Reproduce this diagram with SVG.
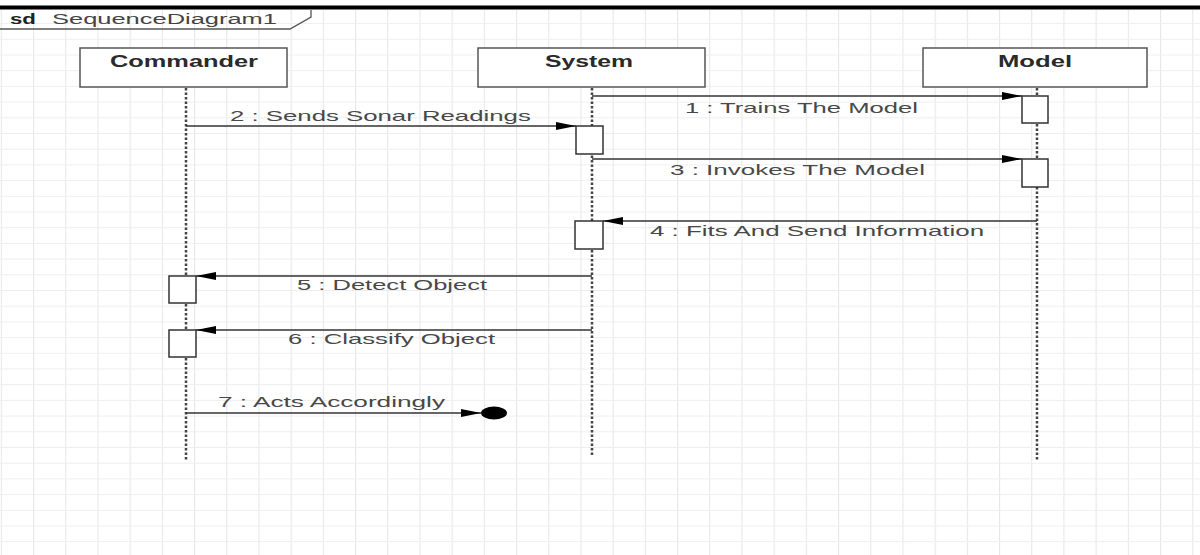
<svg xmlns="http://www.w3.org/2000/svg" width="1200" height="555" viewBox="0 0 1200 555">
<defs>
<pattern id="gv" x="0.8" y="0" width="32.2" height="555" patternUnits="userSpaceOnUse"><line x1="0.5" y1="0" x2="0.5" y2="555" stroke="#e8e8e8" stroke-width="1.2"/></pattern>
<pattern id="gh" x="0" y="7.4" width="1200" height="15.7" patternUnits="userSpaceOnUse"><line x1="0" y1="0.5" x2="1200" y2="0.5" stroke="#eeeeee" stroke-width="1"/></pattern>
<marker id="ah" markerWidth="20" markerHeight="9" refX="20" refY="4.5" orient="auto" markerUnits="userSpaceOnUse"><path d="M0,0.5 L20,4.5 L0,8.5 Z" fill="#000"/></marker>
</defs>
<style>
.lbl{font-family:"Liberation Sans",Arial,sans-serif;font-size:15px;fill:#484848}
.hdr{font-family:"Liberation Sans",Arial,sans-serif;font-size:16px;font-weight:bold;fill:#2a2a2a}
.box{fill:#fff;stroke:#555;stroke-width:1.5}
.act{fill:#fff;stroke:#333;stroke-width:1.5}
.life{stroke:#444;stroke-width:2.5;stroke-dasharray:2.5 2;fill:none}
.msg{stroke:#333;stroke-width:1.3;fill:none}
</style>
<rect width="1200" height="555" fill="#fff"/>
<rect x="0" y="10" width="1200" height="545" fill="url(#gv)"/>
<rect x="0" y="10" width="1200" height="545" fill="url(#gh)"/>
<rect x="0" y="5.5" width="1200" height="4" fill="#000"/>
<g id="frame">
<path d="M0,29 L290,29 L311,17 L311,10" fill="none" stroke="#555" stroke-width="1.3"/>
<text transform="translate(10,24) scale(1.5,1)" style="font-family:'Liberation Sans',Arial,sans-serif;font-size:14px;font-weight:bold;fill:#222" textLength="17.3" lengthAdjust="spacingAndGlyphs">sd</text>
<text transform="translate(52,24) scale(1.6,1)" style="font-family:'Liberation Sans',Arial,sans-serif;font-size:14px;fill:#444" textLength="140.6" lengthAdjust="spacingAndGlyphs">SequenceDiagram1</text>
</g>
<g id="commander">
<rect class="box" x="80" y="48" width="207" height="39"/>
<text class="hdr" transform="translate(110,67) scale(1.6,1)" textLength="92.5" lengthAdjust="spacingAndGlyphs">Commander</text>
<line class="life" x1="186" y1="88" x2="186" y2="460"/>
</g>
<g id="system">
<rect class="box" x="478" y="48" width="227" height="39"/>
<text class="hdr" transform="translate(545,67) scale(1.6,1)" textLength="55" lengthAdjust="spacingAndGlyphs">System</text>
<line class="life" x1="592" y1="88" x2="592" y2="455"/>
</g>
<g id="model">
<rect class="box" x="923" y="48" width="224" height="39"/>
<text class="hdr" transform="translate(998,67) scale(1.6,1)" textLength="46.3" lengthAdjust="spacingAndGlyphs">Model</text>
<line class="life" x1="1037" y1="88" x2="1037" y2="460"/>
</g>
<g id="activations">
<rect class="act" x="1022" y="96" width="26" height="27"/>
<rect class="act" x="576" y="126" width="27" height="28"/>
<rect class="act" x="1022" y="159" width="26" height="28"/>
<rect class="act" x="575" y="221" width="28" height="28"/>
<rect class="act" x="169" y="276" width="27" height="27"/>
<rect class="act" x="169" y="330" width="27" height="27"/>
</g>
<g id="connectors">
<line class="msg" x1="592" y1="96" x2="1022" y2="96" marker-end="url(#ah)"/>
<text class="lbl" transform="translate(685,113) scale(1.6,1)" textLength="145.6" lengthAdjust="spacingAndGlyphs">1 : Trains The Model</text>
<line class="msg" x1="186" y1="126" x2="576" y2="126" marker-end="url(#ah)"/>
<text class="lbl" transform="translate(230,121) scale(1.6,1)" textLength="188" lengthAdjust="spacingAndGlyphs">2 : Sends Sonar Readings</text>
<line class="msg" x1="592" y1="159" x2="1022" y2="159" marker-end="url(#ah)"/>
<text class="lbl" transform="translate(670,175) scale(1.6,1)" textLength="159.4" lengthAdjust="spacingAndGlyphs">3 : Invokes The Model</text>
<line class="msg" x1="1037" y1="221" x2="603" y2="221" marker-end="url(#ah)"/>
<text class="lbl" transform="translate(650,236) scale(1.6,1)" textLength="208.8" lengthAdjust="spacingAndGlyphs">4 : Fits And Send Information</text>
<line class="msg" x1="592" y1="276" x2="196" y2="276" marker-end="url(#ah)"/>
<text class="lbl" transform="translate(297,290) scale(1.6,1)" textLength="118.8" lengthAdjust="spacingAndGlyphs">5 : Detect Object</text>
<line class="msg" x1="592" y1="330" x2="196" y2="330" marker-end="url(#ah)"/>
<text class="lbl" transform="translate(288,344) scale(1.6,1)" textLength="129.4" lengthAdjust="spacingAndGlyphs">6 : Classify Object</text>
<line class="msg" x1="186" y1="413" x2="481" y2="413" marker-end="url(#ah)"/>
<ellipse cx="494" cy="413" rx="13" ry="6.5" fill="#000"/>
<text class="lbl" transform="translate(218,407) scale(1.6,1)" textLength="141.9" lengthAdjust="spacingAndGlyphs">7 : Acts Accordingly</text>
</g>
</svg>
